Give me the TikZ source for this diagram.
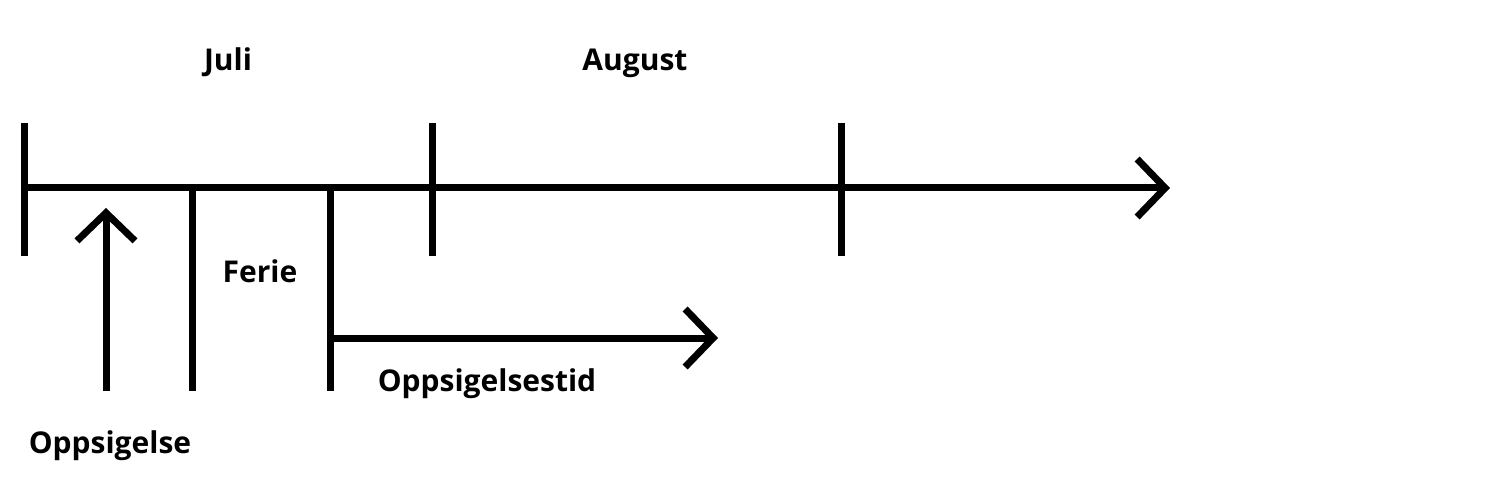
\documentclass[tikz,border=0pt]{standalone}
\usepackage{fontspec}
\setmainfont{Open Sans}
\usetikzlibrary{arrows.meta}
\begin{document}
\begin{tikzpicture}[x=1pt,y=-1pt,
  bar/.style={line width=7pt,line cap=butt},
  barb/.style={-{Straight Barb[length=28pt,width=58pt,line width=7pt]}},
  lbl/.style={font=\fontsize{30}{34}\selectfont\bfseries,anchor=base,inner sep=0pt}]
\useasboundingbox (0,0) rectangle (1500,500);
% coordinates
\coordinate (axS) at (24,188);
\coordinate (axE) at (1170,188);
\coordinate (t1a) at (24,123);  \coordinate (t1b) at (24,256);
\coordinate (t2a) at (432,123); \coordinate (t2b) at (432,256);
\coordinate (t3a) at (841,123); \coordinate (t3b) at (841,256);
\coordinate (upS) at (106,391); \coordinate (upE) at (106,208);
\coordinate (v1a) at (192,188); \coordinate (v1b) at (192,391);
\coordinate (v2a) at (330,188); \coordinate (v2b) at (330,391);
\coordinate (hS) at (330,338);  \coordinate (hE) at (718,338);
% lines
\draw[bar,barb] (axS) -- (axE);
\draw[bar] (t1a) -- (t1b);
\draw[bar] (t2a) -- (t2b);
\draw[bar] (t3a) -- (t3b);
\draw[bar,barb] (upS) -- (upE);
\draw[bar] (v1a) -- (v1b);
\draw[bar] (v2a) -- (v2b);
\draw[bar,barb] (hS) -- (hE);
% labels
\node[lbl] (juli) at (228,71) {Juli};
\node[lbl] (aug) at (635,71) {August};
\node[lbl] (ferie) at (260,282) {Ferie};
\node[lbl] (otid) at (487,391) {Oppsigelsestid};
\node[lbl] (opp) at (110,453) {Oppsigelse};
\end{tikzpicture}
\end{document}
